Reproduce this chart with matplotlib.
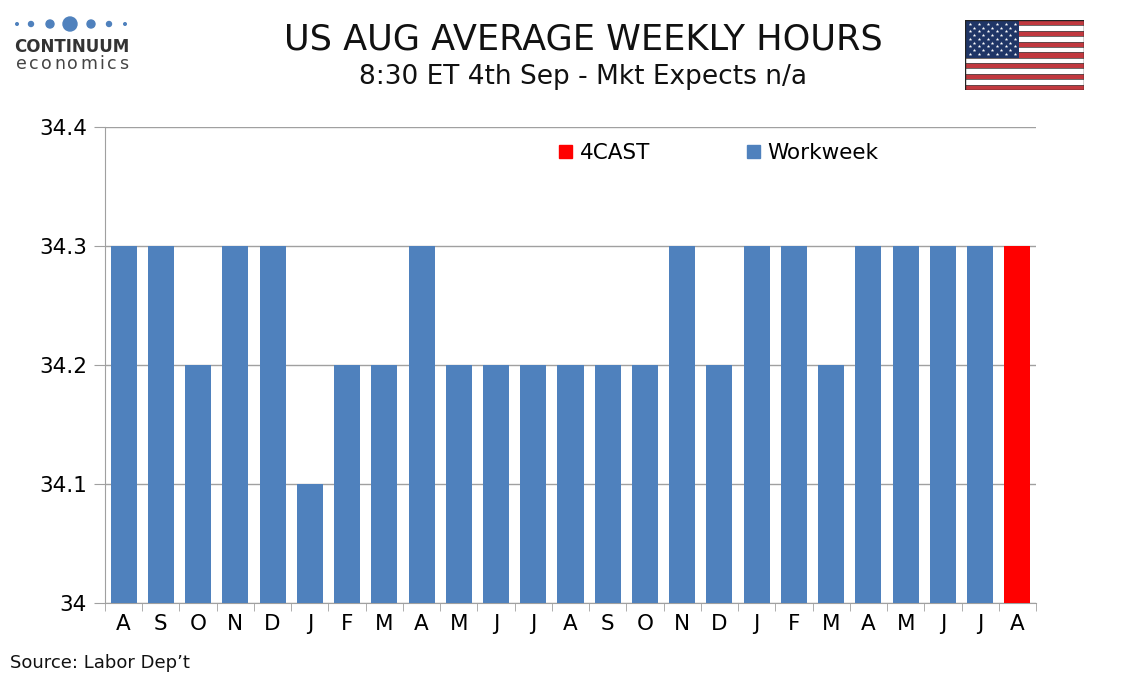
import matplotlib
matplotlib.use("Agg")
import matplotlib.pyplot as plt
from matplotlib.patches import Rectangle, Circle, Patch
import numpy as np

months = ["A","S","O","N","D","J","F","M","A","M","J","J","A","S","O","N","D","J","F","M","A","M","J","J","A"]
workweek = [34.3,34.3,34.2,34.3,34.3,34.1,34.2,34.2,34.3,34.2,34.2,34.2,34.2,34.2,34.2,34.3,34.2,34.3,34.3,34.2,34.3,34.3,34.3,34.3,None]
forecast = [None]*24 + [34.3]
yticks = [34.0,34.1,34.2,34.3,34.4]
ytick_labels = ["34","34.1","34.2","34.3","34.4"]

BLUE = "#4F81BD"
RED = "#FF0000"

plt.rcParams['font.family'] = ['DejaVu Sans']
fig = plt.figure(figsize=(11.34, 6.8), dpi=100)
W, H = 1134, 680
ax = fig.add_axes([105/W, 1-603/H, (1036-105)/W, (603-127)/H])

x = np.arange(len(months))
ww_x = [i for i, v in enumerate(workweek) if v is not None]
ww_v = [v for v in workweek if v is not None]
fc_x = [i for i, v in enumerate(forecast) if v is not None]
fc_v = [v for v in forecast if v is not None]
base = 34.0
ax.bar(ww_x, [v-base for v in ww_v], bottom=base, width=0.7, color=BLUE, zorder=3)
ax.bar(fc_x, [v-base for v in fc_v], bottom=base, width=0.7, color=RED, zorder=3)

ax.set_xlim(-0.5, len(months)-0.5)
ax.set_ylim(34.0, 34.4)
ax.set_yticks(yticks)
ax.set_yticklabels(ytick_labels, fontsize=15.5)
ax.yaxis.grid(True, color="#A0A0A0", linewidth=1, zorder=0)
ax.set_xticks(x)
ax.set_xticklabels(months, fontsize=15.5)
ax.tick_params(axis='x', length=0, pad=8)
ax.set_xticks(np.arange(-0.5, len(months)), minor=True)
ax.tick_params(axis='x', which='minor', length=6, color="#A0A0A0", direction='out')
ax.tick_params(axis='y', length=8, color="#A0A0A0", direction='out', pad=5)
for s in ['top', 'right']:
    ax.spines[s].set_visible(False)
ax.spines['left'].set_color("#A0A0A0")
ax.spines['bottom'].set_color("#A0A0A0")

handles = [Patch(color=RED, label="4CAST"), Patch(color=BLUE, label="Workweek")]
ax.legend(handles=handles, loc='center left', bbox_to_anchor=((559-105)/931, (603-153)/476), ncol=2,
          frameon=False, fontsize=15.5, handlelength=0.6, handleheight=0.6,
          columnspacing=4.5, handletextpad=0.35, borderaxespad=0, borderpad=0)

fig.text(583/W, 1-40/H, "US AUG AVERAGE WEEKLY HOURS", ha='center', va='center', fontsize=25.3, color="#111111")
fig.text(583/W, 1-77/H, "8:30 ET 4th Sep - Mkt Expects n/a", ha='center', va='center', fontsize=19, color="#111111")
fig.text(10/W, 1-663/H, "Source: Labor Dep\u2019t", ha='left', va='center', fontsize=13, color="#111111")

# logo
lax = fig.add_axes([0, 1-80/H, 140/W, 80/H])
lax.set_xlim(0, 140); lax.set_ylim(80, 0); lax.axis('off')
for cx, r in [(17,1.3),(31,2.5),(50,4),(70,7),(91,4),(109,2.5),(125,1.3)]:
    lax.add_patch(Circle((cx, 24), r, color=BLUE))
lax.text(72, 47, "CONTINUUM", ha='center', va='center', fontsize=12, fontweight='bold', color="#333333", family='DejaVu Sans Condensed')
adv = {'e': 0.615, 'c': 0.550, 'o': 0.612, 'n': 0.634, 'm': 0.974, 'i': 0.278, 's': 0.521}
fs = 12.5
em = fs * 100 / 72
xpos = 16.0
for ch in "economics":
    lax.text(xpos, 64, ch, ha='left', va='center', fontsize=fs, color="#444444")
    xpos += adv[ch] * em + 2.4

# flag
fax = fig.add_axes([965/W, 1-90/H, 119/W, 70/H])
fax.set_xlim(0, 1.9); fax.set_ylim(0, 1); fax.axis('off')
sh = 1/13
for i in range(13):
    c = "#C1393F" if i % 2 == 0 else "white"
    fax.add_patch(Rectangle((0, 1-(i+1)*sh), 1.9, sh, fc=c, ec="#333333", lw=0.4))
fax.add_patch(Rectangle((0, 1-7*sh), 0.87, 7*sh, color="#1F3566", lw=0))
sx, sy = [], []
for r in range(9):
    n = 6 if r % 2 == 0 else 5
    off = 0.072 if r % 2 == 0 else 0.144
    for k in range(n):
        sx.append(off + k*0.144)
        sy.append(1 - 0.054 - r*0.054)
fax.scatter(sx, sy, marker='*', s=7, color='white', lw=0)
fax.add_patch(Rectangle((0, 0), 1.9, 1, fill=False, ec="#222222", lw=1))

fig.savefig("out.png", dpi=100, facecolor='white')
